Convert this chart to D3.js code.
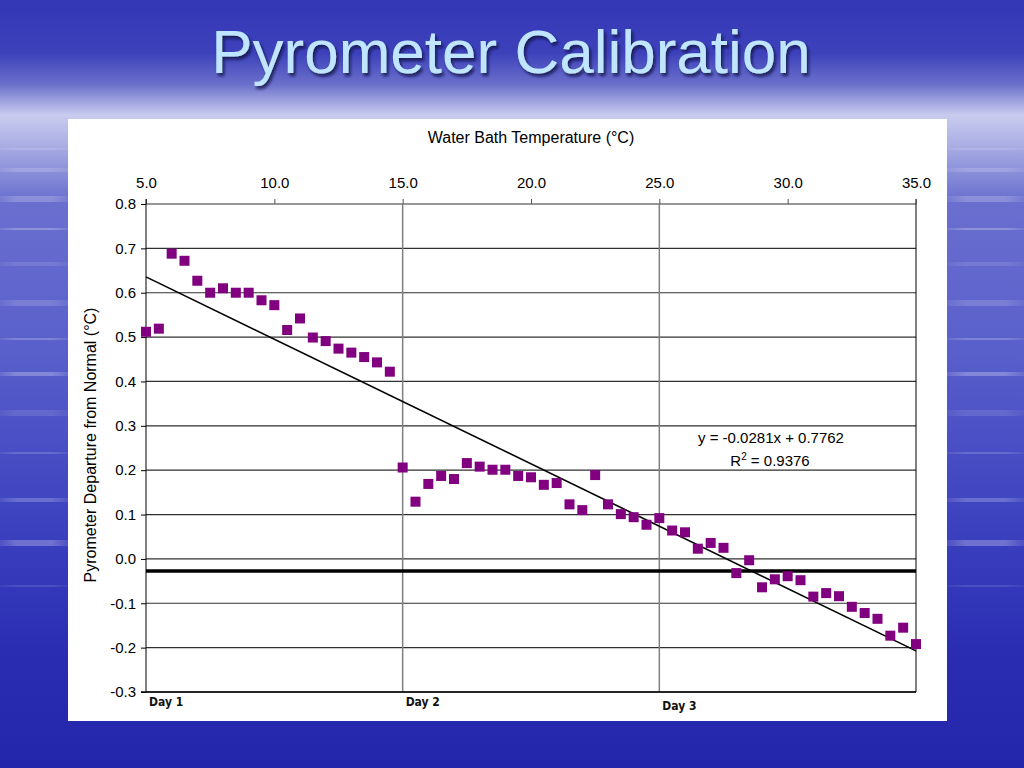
<!DOCTYPE html>
<html>
<head>
<meta charset="utf-8">
<script src="https://cdn.jsdelivr.net/npm/d3@7"></script>
<style>
  body { margin: 0; }
  svg { display: block; }
</style>
</head>
<body>
<svg id="chart"></svg>
<script>
// DATA
const temps = [
  5.0, 5.5, 6.0, 6.5, 7.0, 7.5, 8.0, 8.5, 9.0, 9.5,
  10.0, 10.5, 11.0, 11.5, 12.0, 12.5, 13.0, 13.5, 14.0, 14.5,
  15.0, 15.5, 16.0, 16.5, 17.0, 17.5, 18.0, 18.5, 19.0, 19.5,
  20.0, 20.5, 21.0, 21.5, 22.0, 22.5, 23.0, 23.5, 24.0, 24.5,
  25.0, 25.5, 26.0, 26.5, 27.0, 27.5, 28.0, 28.5, 29.0, 29.5,
  30.0, 30.5, 31.0, 31.5, 32.0, 32.5, 33.0, 33.5, 34.0, 34.5, 35.0
];
const departures = [
  0.512, 0.519, 0.688, 0.672, 0.627, 0.600, 0.610, 0.600, 0.600, 0.583,
  0.572, 0.516, 0.542, 0.499, 0.491, 0.474, 0.465, 0.455, 0.443, 0.422,
  0.206, 0.129, 0.169, 0.187, 0.180, 0.216, 0.208, 0.201, 0.201, 0.187,
  0.184, 0.167, 0.171, 0.123, 0.110, 0.189, 0.123, 0.101, 0.094, 0.077,
  0.092, 0.064, 0.060, 0.023, 0.036, 0.025, -0.032, -0.003, -0.064, -0.046,
  -0.039, -0.048, -0.085, -0.077, -0.084, -0.108, -0.122, -0.135, -0.173, -0.155, -0.192
];
const xTicks = [5, 10, 15, 20, 25, 30, 35];
const yTicks = [0.8, 0.7, 0.6, 0.5, 0.4, 0.3, 0.2, 0.1, 0.0, -0.1, -0.2, -0.3];
const dayBreaks = [15, 25];
const days = [
  { label: "Day 1", x: 5 },
  { label: "Day 2", x: 15 },
  { label: "Day 3", x: 25 }
];
const trend = { slope: -0.0281, intercept: 0.7762, r2: 0.9376 };
const normalOffset = -0.027;

const width = 1024;
const height = 768;

const svg = d3.select("#chart").attr("width", width).attr("height", height);

// BACKGROUND
const defs = svg.append("defs");
const bg = defs.append("linearGradient")
  .attr("id", "bg").attr("x1", 0).attr("y1", 0).attr("x2", 0).attr("y2", 1);
[
  [0, "#3336b5"], [0.07, "#3d42bb"], [0.11, "#6b70cc"], [0.15, "#c9ccef"],
  [0.19, "#a9ade3"], [0.26, "#6a6fcf"], [0.45, "#5a60cb"], [0.7, "#3a3fbe"],
  [0.85, "#2a2db2"], [1, "#2326aa"]
].forEach(([o, c]) => bg.append("stop").attr("offset", o).attr("stop-color", c));

svg.append("rect").attr("width", width).attr("height", height).attr("fill", "url(#bg)");

// soft streaks on the slide background
const streakFade = defs.append("linearGradient").attr("id", "streak");
[[0, 0], [0.3, 1], [0.7, 1], [1, 0]].forEach(([o, a]) =>
  streakFade.append("stop").attr("offset", o)
    .attr("stop-color", "#ffffff").attr("stop-opacity", a));

const streaks = [148, 168, 196, 228, 262, 300, 338, 372, 410, 452, 498, 540, 585];
const streakSides = [[0, 68], [947, 77]];
streakSides.forEach(([sx, sw]) => {
  svg.append("g")
    .selectAll("rect")
    .data(streaks)
    .enter()
    .append("rect")
    .attr("x", sx - 10)
    .attr("y", (d) => d)
    .attr("width", sw + 20)
    .attr("height", (d, i) => 2 + (i % 3) * 2)
    .attr("fill", "url(#streak)")
    .attr("opacity", (d, i) => 0.12 + (i % 4) * 0.05);
});

// TITLE
const shadow = defs.append("filter").attr("id", "shadow")
  .attr("x", "-10%").attr("y", "-20%").attr("width", "120%").attr("height", "150%");
shadow.append("feDropShadow")
  .attr("dx", 2).attr("dy", 3).attr("stdDeviation", 1.5)
  .attr("flood-color", "#0a0a40").attr("flood-opacity", 0.8);

svg.append("text")
  .attr("x", 511)
  .attr("y", 73)
  .attr("text-anchor", "middle")
  .attr("font-family", "Liberation Sans, Arial, sans-serif")
  .attr("font-size", 62)
  .attr("fill", "#c0e6ff")
  .attr("filter", "url(#shadow)")
  .text("Pyrometer Calibration");

// CHART PANEL
svg.append("rect")
  .attr("x", 68).attr("y", 119)
  .attr("width", 879).attr("height", 602)
  .attr("fill", "#ffffff");

const margin = { left: 146, right: 916, top: 204, bottom: 692 };

const x = d3.scaleLinear().domain([5, 35]).range([margin.left, margin.right]);
const y = d3.scaleLinear().domain([-0.3, 0.8]).range([margin.bottom, margin.top]);

const font = "Liberation Sans, Arial, sans-serif";
const fmt = (d) => d.toFixed(1); // plain hyphen for negatives, like Excel

// horizontal gridlines
svg.append("g")
  .selectAll("line")
  .data(yTicks)
  .enter()
  .append("line")
  .attr("x1", margin.left)
  .attr("x2", margin.right)
  .attr("y1", (d) => y(d))
  .attr("y2", (d) => y(d))
  .attr("stroke", "#303030")
  .attr("stroke-width", 1.2);

// day separators
svg.append("g")
  .selectAll("line")
  .data(dayBreaks)
  .enter()
  .append("line")
  .attr("x1", (d) => x(d))
  .attr("x2", (d) => x(d))
  .attr("y1", margin.top)
  .attr("y2", margin.bottom)
  .attr("stroke", "#808080")
  .attr("stroke-width", 1.5);

// right border
svg.append("line")
  .attr("x1", margin.right).attr("x2", margin.right)
  .attr("y1", margin.top - 5).attr("y2", margin.bottom)
  .attr("stroke", "#000");

// AXES
const topAxis = d3.axisTop(x)
  .tickValues(xTicks)
  .tickSize(5)
  .tickPadding(11)
  .tickFormat(fmt);

const gTop = svg.append("g")
  .attr("transform", `translate(0, ${margin.top})`)
  .call(topAxis);
gTop.select(".domain").remove();
gTop.selectAll("line").attr("stroke", "#555");
gTop.selectAll("text")
  .attr("font-family", font)
  .attr("font-size", 15)
  .attr("fill", "#000");

const leftAxis = d3.axisLeft(y)
  .tickValues(yTicks)
  .tickSize(5)
  .tickPadding(5)
  .tickFormat(fmt);

const gLeft = svg.append("g")
  .attr("transform", `translate(${margin.left}, 0)`)
  .call(leftAxis);
gLeft.select(".domain")
  .attr("d", `M0,${margin.top - 5}V${margin.bottom}`)
  .attr("stroke", "#000");
gLeft.selectAll("line").attr("stroke", "#000");
gLeft.selectAll("text")
  .attr("font-family", font)
  .attr("font-size", 15)
  .attr("fill", "#000");

// bottom axis line
svg.append("line")
  .attr("x1", margin.left - 5).attr("x2", margin.right)
  .attr("y1", margin.bottom).attr("y2", margin.bottom)
  .attr("stroke", "#000").attr("stroke-width", 1.5);

// axis titles
svg.append("text")
  .attr("x", 531).attr("y", 143)
  .attr("text-anchor", "middle")
  .attr("font-family", font)
  .attr("font-size", 16)
  .text("Water Bath Temperature (\u00B0C)");

svg.append("text")
  .attr("transform", `translate(96, 445) rotate(-90)`)
  .attr("text-anchor", "middle")
  .attr("font-family", font)
  .attr("font-size", 16)
  .text("Pyrometer Departure from Normal (\u00B0C)");

// day labels
svg.append("g")
  .selectAll("text")
  .data(days)
  .enter()
  .append("text")
  .attr("x", (d) => x(d.x) + 3)
  .attr("y", (d, i) => (i === 2 ? 710 : 706))
  .attr("font-family", "DejaVu Sans Condensed, Liberation Sans Narrow, sans-serif")
  .attr("font-weight", "bold")
  .attr("font-size", 12)
  .attr("fill", "#111")
  .text((d) => d.label);

// normal reference line
svg.append("line")
  .attr("x1", margin.left).attr("x2", margin.right)
  .attr("y1", y(normalOffset)).attr("y2", y(normalOffset))
  .attr("stroke", "#000").attr("stroke-width", 3.5);

// trend line
const trendY = (t) => trend.slope * t + trend.intercept;
svg.append("line")
  .attr("x1", x(5)).attr("y1", y(trendY(5)))
  .attr("x2", x(35)).attr("y2", y(trendY(35)))
  .attr("stroke", "#000").attr("stroke-width", 1.6);

// data points
const points = temps.map((t, i) => ({ t, v: departures[i] }));
const size = 10;
svg.append("g")
  .selectAll("rect")
  .data(points)
  .enter()
  .append("rect")
  .attr("x", (d) => x(d.t) - size / 2)
  .attr("y", (d) => y(d.v) - size / 2)
  .attr("width", size)
  .attr("height", size)
  .attr("fill", "#800080");

// trend equation
svg.append("text")
  .attr("x", 771).attr("y", 443)
  .attr("text-anchor", "middle")
  .attr("font-family", font)
  .attr("font-size", 15)
  .text(`y = ${trend.slope}x + ${trend.intercept}`);
const r2 = svg.append("text")
  .attr("x", 770).attr("y", 466)
  .attr("text-anchor", "middle")
  .attr("font-family", font)
  .attr("font-size", 15);
r2.append("tspan").text("R");
r2.append("tspan").attr("font-size", 10).attr("dy", -6).text("2");
r2.append("tspan").attr("dy", 6).text(` = ${trend.r2}`);
</script>
</body>
</html>
